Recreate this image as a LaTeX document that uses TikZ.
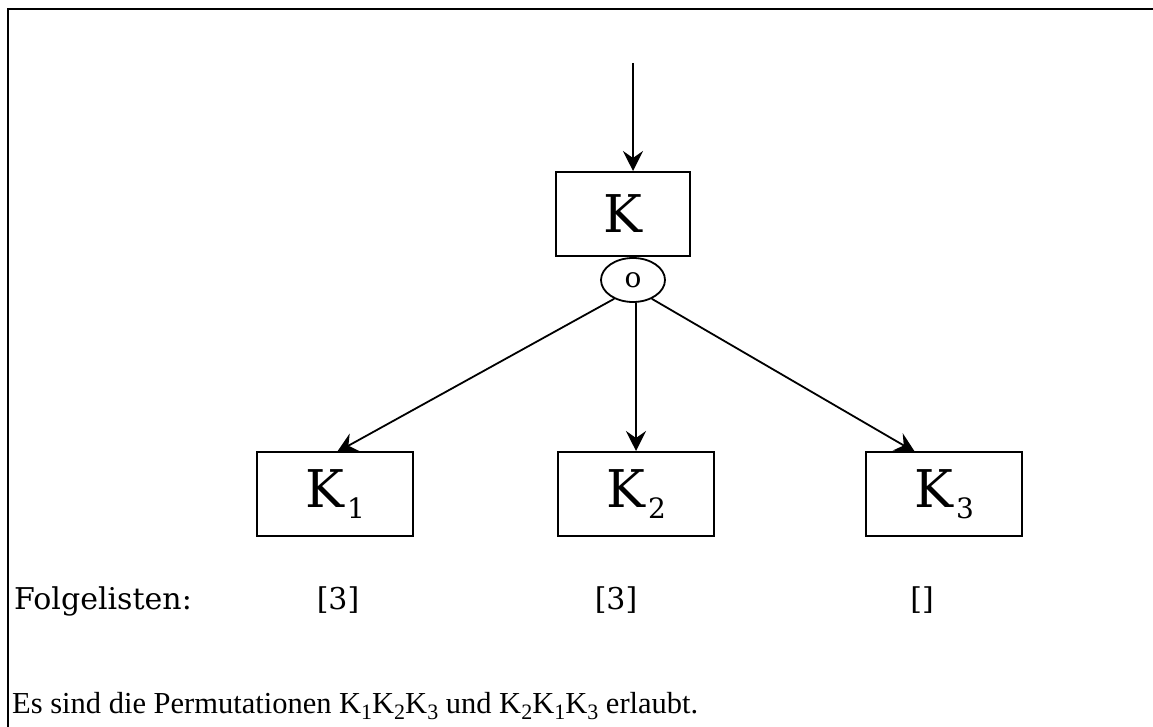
\documentclass[tikz,border=0pt]{standalone}
\usepackage{fontspec}
\setmainfont{DejaVu Serif}
\newfontfamily\timesfont{Liberation Serif}
\usetikzlibrary{arrows.meta,shapes.geometric}
\newcommand{\bsub}[1]{\kern3pt\raisebox{-11pt}{\fontsize{28}{30}\selectfont #1}}
\newcommand{\tsub}[1]{\raisebox{-6pt}{\fontsize{22}{26}\selectfont #1}}
\begin{document}
\begin{tikzpicture}[x=1pt,y=-1pt,
  box/.style={draw,line width=2pt,minimum width=156pt,minimum height=84pt,inner sep=0pt,font=\fontsize{52}{60}\selectfont},
  arr/.style={line width=1.8pt,-{Stealth[length=20pt,width=20pt,inset=7pt]}},
  lbl/.style={font=\fontsize{30}{36}\selectfont,inner sep=0pt}]
\useasboundingbox (0,0) rectangle (1153,727);
\draw[line width=2pt] (1153,9) -- (8,9) -- (8,727);
\node[box,minimum width=134pt] (k) at (623,214) {K};
\node[draw,ellipse,line width=1.8pt,minimum width=64pt,minimum height=44pt,inner sep=0pt,font=\fontsize{28}{30}\selectfont] (o) at (633,280) {o};
\node[box] (k1) at (335,494) {K\bsub{1}};
\node[box] (k2) at (636,494) {K\bsub{2}};
\node[box] (k3) at (944,494) {K\bsub{3}};
\coordinate (top) at (633,63);
\coordinate (t1) at (337,452);
\coordinate (t3) at (915,452);
\draw[arr] (top) -- (k.north -| top);
\draw[arr] (o.225) -- (t1);
\draw[arr] (o.south -| k2.north) -- (k2.north);
\draw[arr] (o.315) -- (t3);
\node[lbl,anchor=base west] (fl) at (14,609) {Folgelisten:};
\node[lbl,anchor=base] (l1) at (338,609) {[3]};
\node[lbl,anchor=base] (l2) at (616,609) {[3]};
\node[lbl,anchor=base] (l3) at (922,609) {[]};
\node[anchor=base west,inner sep=0pt,font=\timesfont\fontsize{30.5}{34}\selectfont] (es) at (12,713) {Es sind die Permutationen K\tsub{1}K\tsub{2}K\tsub{3} und K\tsub{2}K\tsub{1}K\tsub{3} erlaubt.};
\end{tikzpicture}
\end{document}
